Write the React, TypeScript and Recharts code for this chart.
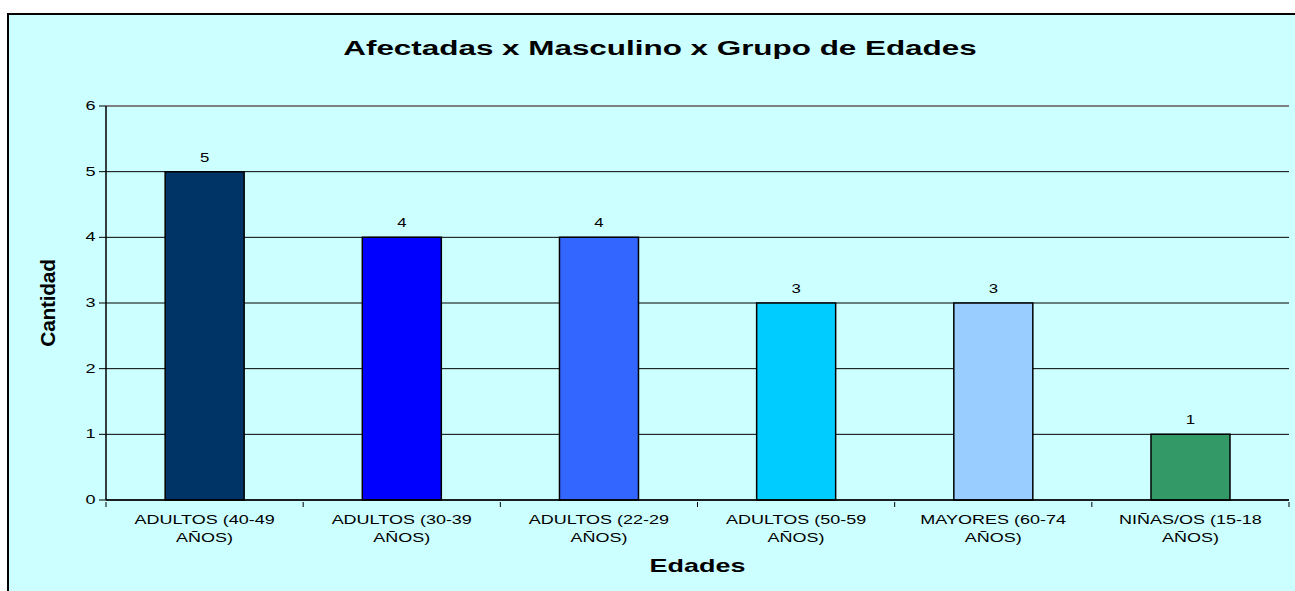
import React from 'react';
import { BarChart, Bar, XAxis, YAxis, CartesianGrid, LabelList, Cell, ReferenceLine } from 'recharts';

const categories = [
  'ADULTOS (40-49 AÑOS)',
  'ADULTOS (30-39 AÑOS)',
  'ADULTOS (22-29 AÑOS)',
  'ADULTOS (50-59 AÑOS)',
  'MAYORES (60-74 AÑOS)',
  'NIÑAS/OS (15-18 AÑOS)',
];
const values = [5, 4, 4, 3, 3, 1];
const colors = ['#003366', '#0000FF', '#3366FF', '#00CCFF', '#99CCFF', '#339966'];
const yTicks = [0, 1, 2, 3, 4, 5, 6];

const data = categories.map((c, i) => ({ name: c, value: values[i] }));

const FONT = 'Arial, "Liberation Sans", sans-serif';

const stretch = (s: number): React.CSSProperties => ({
  transform: `scaleX(${s})`,
  transformBox: 'fill-box',
  transformOrigin: 'center',
} as any);

const XTick = (props: any) => {
  const { x, y, payload, index } = props;
  const s: string = payload.value;
  const idx = s.lastIndexOf(' ');
  const l1 = s.slice(0, idx);
  const l2 = s.slice(idx + 1);
  const half = typeof payload.offset === 'number' ? payload.offset : 0;
  const isLast = index === categories.length - 1;
  return (
    <g transform={`translate(${x},${y})`}>
      {half > 0 && <line x1={-half} x2={-half} y1={-6} y2={-1} stroke="#000" strokeWidth={1} />}
      {half > 0 && isLast && <line x1={half} x2={half} y1={-6} y2={-1} stroke="#000" strokeWidth={1} />}
      <text x={0} y={16} textAnchor="middle" fontFamily={FONT} fontSize={12} fill="#000" style={stretch(1.5)}>
        {l1}
      </text>
      <text x={0} y={34} textAnchor="middle" fontFamily={FONT} fontSize={12} fill="#000" style={stretch(1.5)}>
        {l2}
      </text>
    </g>
  );
};

const YTick = (props: any) => {
  const { x, y, payload } = props;
  return (
    <text x={x - 3} y={y + 4} textAnchor="end" fontFamily={FONT} fontSize={12.5} fill="#000" style={stretch(1.45)}>
      {payload.value}
    </text>
  );
};

const ValueLabel = (props: any) => {
  const { x, y, width, value } = props;
  return (
    <text x={x + width / 2} y={y - 10} textAnchor="middle" fontFamily={FONT} fontSize={12} fill="#000" style={stretch(1.4)}>
      {value}
    </text>
  );
};

export default function App() {
  return (
    <div
      style={{
        position: 'absolute',
        left: 7,
        top: 13,
        width: 1310,
        height: 600,
        background: '#CCFFFF',
        borderTop: '2px solid #000',
        borderLeft: '2px solid #000',
        boxSizing: 'border-box',
        fontFamily: FONT,
      }}
    >
      <div
        style={{
          position: 'absolute',
          left: 0,
          top: 21,
          width: 1302,
          textAlign: 'center',
          fontSize: 20,
          fontWeight: 'bold',
          lineHeight: '24px',
          color: '#000',
          transform: 'scaleX(1.57)',
          transformOrigin: 'center',
        }}
      >
        Afectadas x Masculino x Grupo de Edades
      </div>
      <div style={{ position: 'absolute', left: 0, top: 0 }}>
        <BarChart
          width={1300}
          height={580}
          data={data}
          margin={{ top: 91, right: 20, bottom: 20, left: 27 }}
          barCategoryGap="30%"
        >
          <CartesianGrid horizontal vertical={false} stroke="#000" strokeWidth={1} />
          <XAxis
            dataKey="name"
            height={75}
            tick={<XTick />}
            tickLine={false}
            axisLine={{ stroke: '#000', strokeWidth: 1.5 }}
            interval={0}
            label={{
              value: 'Edades',
              position: 'insideBottom',
              offset: 3,
              style: { fontFamily: FONT, fontSize: 19, fontWeight: 'bold', fill: '#000', ...stretch(1.42) },
            }}
          />
          <YAxis
            width={70}
            domain={[0, 6]}
            ticks={yTicks}
            interval={0}
            tick={<YTick />}
            tickLine={{ stroke: '#000' }}
            tickSize={7}
            axisLine={{ stroke: '#000', strokeWidth: 1.5 }}
            label={{
              value: 'Cantidad',
              angle: -90,
              position: 'insideLeft',
              offset: 12,
              style: { fontFamily: FONT, fontSize: 21, fontWeight: 'bold', fill: '#000', textAnchor: 'middle', letterSpacing: -0.3 },
            }}
          />
          <YAxis
            yAxisId="r"
            orientation="right"
            width={0}
            domain={[0, 6]}
            tick={false}
            tickLine={false}
            axisLine={{ stroke: '#808080', strokeWidth: 2 }}
          />
          <ReferenceLine y={6} stroke="#808080" strokeWidth={2} />
          <Bar dataKey="value" stroke="#000" strokeWidth={1.5} isAnimationActive={false}>
            {data.map((d, i) => (
              <Cell key={d.name} fill={colors[i]} />
            ))}
            <LabelList dataKey="value" content={<ValueLabel />} />
          </Bar>
        </BarChart>
      </div>
    </div>
  );
}
